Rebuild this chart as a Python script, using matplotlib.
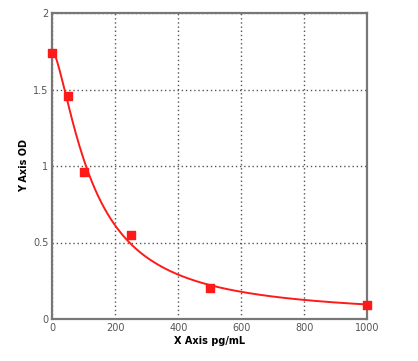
import numpy as np
import matplotlib
matplotlib.use('Agg')
import matplotlib.pyplot as plt

# standard points
conc = np.array([0, 50, 100, 250, 500, 1000])
od = np.array([1.74, 1.46, 0.96, 0.55, 0.20, 0.09])

xticks = [0, 200, 400, 600, 800, 1000]
yticks = [0, 0.5, 1, 1.5, 2]
yticklabels = ['0', '0.5', '1', '1.5', '2']


# 4PL fit: grid over b, c; linear least squares for a, d
def fit_4pl(x, y):
    best = None
    for b in np.linspace(0.5, 3.0, 126):
        for c in np.linspace(20, 600, 291):
            g = 1.0 / (1.0 + (x / c) ** b)
            A = np.column_stack([g, 1 - g])
            coef, *_ = np.linalg.lstsq(A, y, rcond=None)
            err = np.sum((A @ coef - y) ** 2)
            if best is None or err < best[0]:
                best = (err, coef[0], coef[1], b, c)
    return best[1:]


a, d, b, c = fit_4pl(conc.astype(float), od)
xs = np.linspace(0, 1000, 400)
ys = d + (a - d) / (1 + (xs / c) ** b)

fig = plt.figure(figsize=(4.18, 3.61), dpi=100)
ax = fig.add_axes([52.5 / 418, 1 - 319 / 361, 314.5 / 418, 306 / 361])

ax.plot(xs, ys, color='#ff1a1a', linewidth=1.4, zorder=3)
ax.scatter(conc, od, marker='s', s=40, color='#ff1a1a', zorder=4, clip_on=False)

ax.set_xlim(0, 1000)
ax.set_ylim(0, 2)
ax.set_xticks(xticks)
ax.set_xticklabels([str(t) for t in xticks])
ax.set_yticks(yticks)
ax.set_yticklabels(yticklabels)
ax.tick_params(length=0, labelsize=7, labelcolor='#555555', pad=3)
ax.grid(True, color='#555555', linestyle=(0, (1, 2)), linewidth=1.0)
for s in ax.spines.values():
    s.set_color('#777777')
    s.set_linewidth(1.6)

ax.set_xlabel('X Axis pg/mL', fontsize=7, fontweight='bold', labelpad=2)
ax.set_ylabel('Y Axis OD', fontsize=7, fontweight='bold', labelpad=3)

fig.savefig('out.png', dpi=100)
